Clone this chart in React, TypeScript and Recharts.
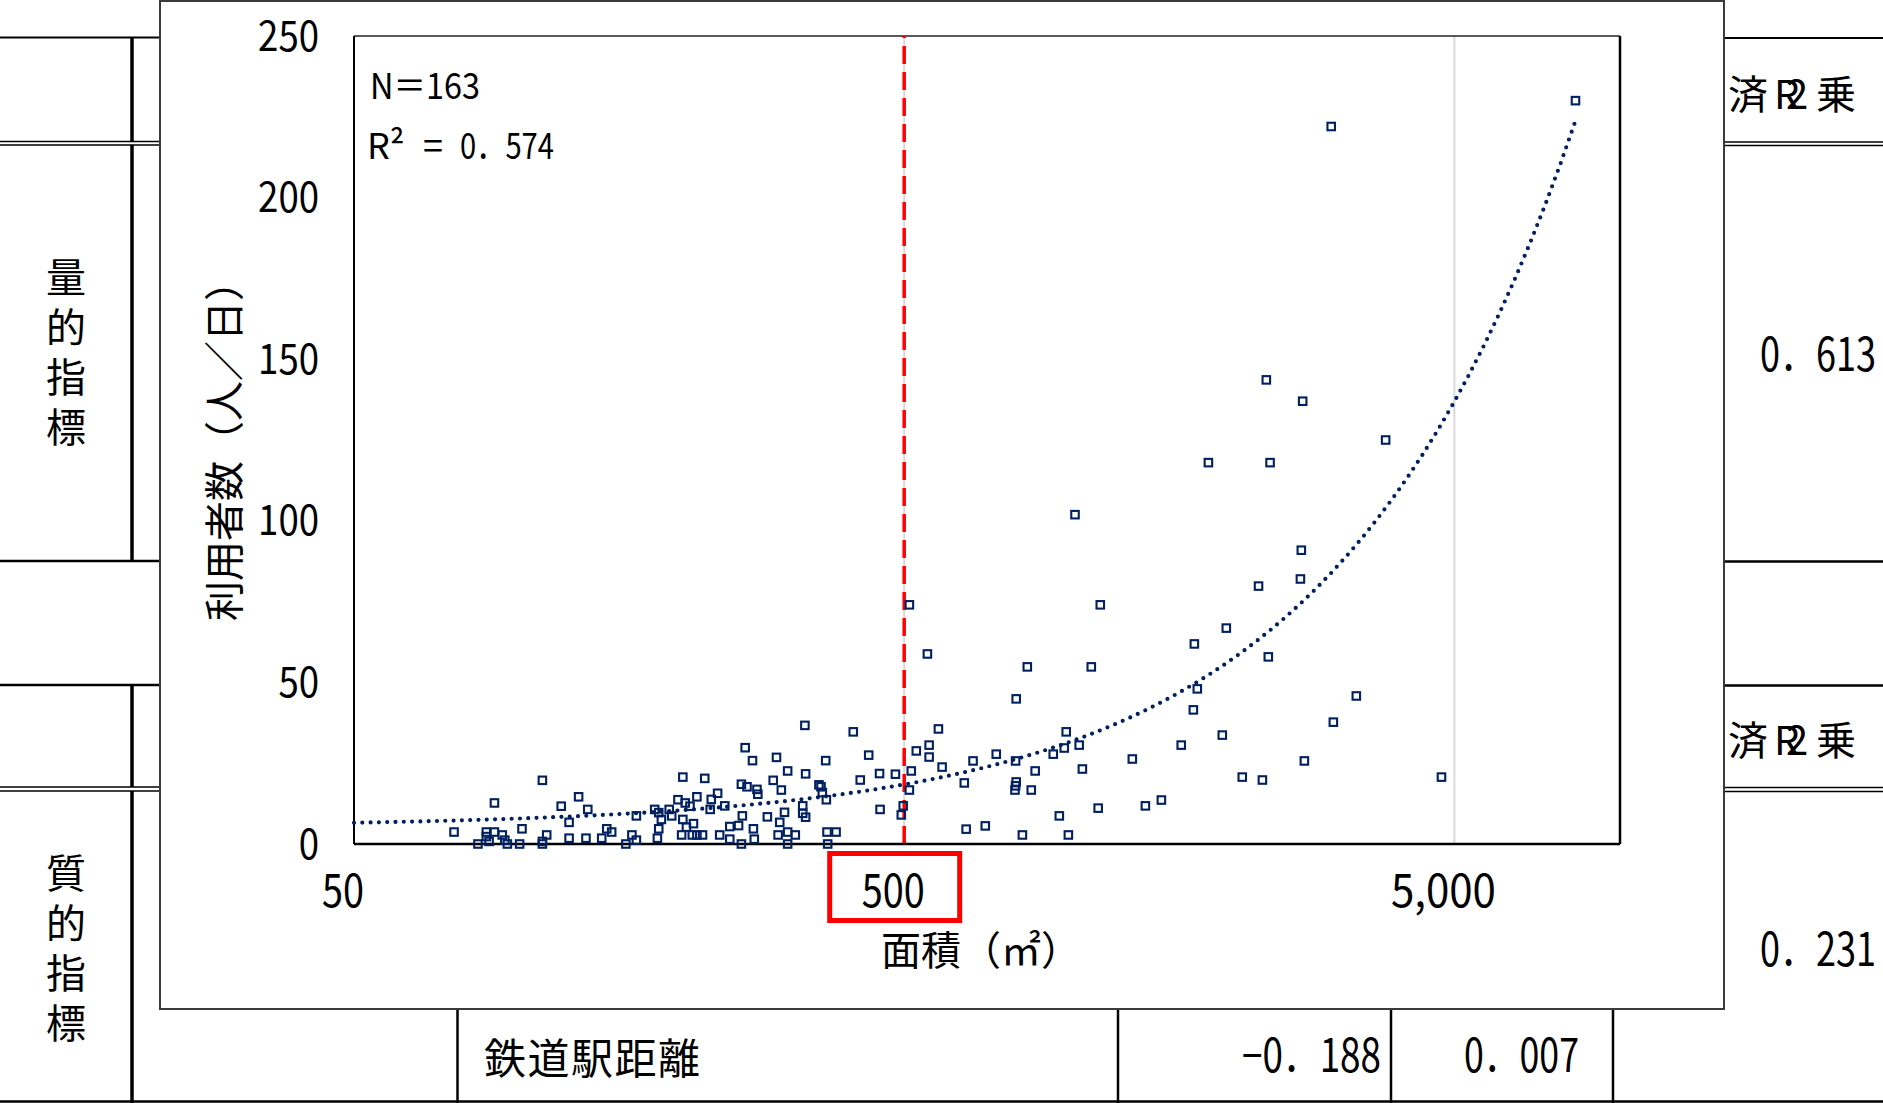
import {
  ScatterChart,
  Scatter,
  XAxis,
  YAxis,
  CartesianGrid,
  ReferenceLine,
  Label,
} from "recharts";

const FONT = "'Noto Sans CJK JP', 'Noto Sans CJK SC', sans-serif";
const NAVY = "#002060";

// [面積(㎡), 利用者数(人/日)]
const facilities: [number, number][] = [
  [76, 3.7], [84, 0], [87, 3.7], [87, 2.3], [88, 0.8], [90, 3.7], [90, 12.7], [93, 2.8], [94, 1.2], [95, 0],
  [100, 0], [101, 4.7], [110, 19.7], [110, 0.8], [110, 0], [112, 2.8], [119, 11.7], [123, 6.7], [123, 1.8], [128, 14.6],
  [132, 1.8], [133, 10.7], [141, 1.8], [144, 4.7], [147, 3.7], [156, 0], [160, 2.8], [163, 1.2], [163, 8.7], [176, 10.7],
  [178, 1.8], [179, 4.7], [179, 9.7], [181, 7.6], [187, 10.7], [189, 8.7], [194, 13.7], [197, 2.8], [198, 20.7], [198, 7.6],
  [200, 12.7], [201, 5.2], [204, 11.7], [206, 2.8], [210, 2.8], [215, 2.8], [207, 6.3], [210, 14.6], [217, 20.3], [222, 10.7],
  [223, 13.8], [229, 15.7], [231, 2.8], [236, 11.8], [241, 5.4], [241, 1.5], [250, 5.7], [253, 18.5], [253, 0], [254, 8.7],
  [257, 29.8], [259, 17.7], [265, 25.8], [266, 4.7], [267, 1.5], [270, 16.9], [271, 15.4], [282, 8.4], [289, 19.7], [293, 26.8],
  [295, 2.8], [297, 6.7], [299, 16.7], [303, 9.8], [307, 22.6], [307, 3.7], [307, 0], [317, 2.8], [327, 11.8], [327, 9.5],
  [330, 36.7], [331, 21.7], [331, 8.3], [350, 18.3], [353, 17.7], [355, 15.9], [360, 25.8], [361, 13.7], [362, 3.7], [363, 0],
  [376, 3.7], [404, 34.7], [416, 19.8], [431, 27.5], [451, 21.8], [452, 10.7], [482, 21.6], [494, 9], [498, 11.8], [511, 74],
  [511, 16.7], [515, 22.6], [526, 28.8], [551, 58.8], [555, 30.6], [555, 26.9], [577, 35.6], [586, 23.8], [643, 18.9], [648, 4.6],
  [667, 25.7], [702, 5.6], [735, 27.8], [795, 16.7], [797, 25.7], [799, 44.9], [799, 19.2], [797, 18], [820, 2.8], [837, 54.8],
  [851, 16.7], [865, 22.6], [933, 27.8], [957, 8.7], [977, 29.7], [985, 34.7], [994, 2.8], [1022, 101.9], [1040, 30.6], [1054, 23.2],
  [1094, 54.8], [1126, 11.1], [1136, 74], [1299, 26.3], [1372, 11.8], [1467, 13.6], [1594, 30.6], [1677, 41.5], [1684, 61.9], [1705, 48],
  [1786, 118], [1893, 33.7], [1925, 66.8], [2058, 20.7], [2203, 79.8], [2239, 19.8], [2276, 143.6], [2295, 57.9], [2312, 118], [2625, 82],
  [2635, 90.9], [2650, 137], [2669, 25.7], [2986, 222], [3013, 37.7], [3317, 45.8], [3750, 125], [4737, 20.7], [8300, 230],
];

const xTicks = [50, 500, 5000];
const yTicks = [0, 50, 100, 150, 200, 250];
const xDomain: [number, number] = [50, 10000];
const yDomain: [number, number] = [0, 250];
const highlightX = 500;

const sampleText = "N＝163";
const r2Parts = ["R²", "=", "0．574"];
const xTitle = "面積（㎡）";
const yTitle = "利用者数（人／日）";

// surrounding table
const sectionLabels = ["量的指標", "質的指標"];
const adjR2Head = "済R2乗";
const adjR2Values = ["0．613", "0．231"];
const rowLabel = "鉄道駅距離";
const rowValues = ["−0．188", "0．007"];

const points = facilities.map(([x, y]) => ({ x, y }));

// linear least-squares trendline (drawn on the log x axis, so it curves)
const n = points.length;
const meanX = points.reduce((s, p) => s + p.x, 0) / n;
const meanY = points.reduce((s, p) => s + p.y, 0) / n;
let sxy = 0;
let sxx = 0;
points.forEach((p) => {
  sxy += (p.x - meanX) * (p.y - meanY);
  sxx += (p.x - meanX) * (p.x - meanX);
});
const slope = sxy / sxx;
const intercept = meanY - slope * meanX;
const maxX = Math.max(...points.map((p) => p.x));
const trend = Array.from({ length: 81 }, (_, i) => {
  const x = xDomain[0] * Math.pow(maxX / xDomain[0], i / 80);
  return { x, y: intercept + slope * x };
});

const Square = (props: any) => (
  <rect
    x={props.cx - 3.75}
    y={props.cy - 3.75}
    width={7.5}
    height={7.5}
    fill="none"
    stroke={NAVY}
    strokeWidth={2.1}
  />
);

const YTick = ({ y, payload }: any) => {
  const s = String(payload.value);
  return (
    <text
      x={159}
      y={y - 4}
      textAnchor="end"
      dominantBaseline="central"
      fontSize={42}
      fontFamily={FONT}
      fill="#000"
      textLength={20.3 * s.length}
      lengthAdjust="spacingAndGlyphs"
    >
      {s}
    </text>
  );
};

const XTick = ({ x, payload }: any) => {
  const s = Number(payload.value).toLocaleString("en-US");
  const cx = x - 11;
  return (
    <g>
      {payload.value === highlightX && (
        <rect
          x={cx - 63.5}
          y={852.5}
          width={130}
          height={67}
          fill="none"
          stroke="#FF0000"
          strokeWidth={5}
        />
      )}
      <text
        x={cx}
        y={886}
        textAnchor="middle"
        dominantBaseline="central"
        fontSize={46}
        fontFamily={FONT}
        fill="#000"
        textLength={21 * s.length}
        lengthAdjust="spacingAndGlyphs"
      >
        {s}
      </text>
    </g>
  );
};

function TableLayer() {
  const hy = [37.5, 141.5, 145, 561, 685, 787, 791];
  const hw = [2, 1.5, 1.5, 2.5, 2.5, 1.5, 1.5];
  const txt = { fontFamily: FONT, fill: "#000", dominantBaseline: "central" as const };
  return (
    <svg width={1883} height={1103} style={{ position: "absolute", left: 0, top: 0 }}>
      {hy.map((y, i) => (
        <g key={y}>
          <line x1={0} x2={160} y1={y} y2={y} stroke="#000" strokeWidth={hw[i]} />
          <line x1={1724} x2={1883} y1={y + 0.5} y2={y + 0.5} stroke="#000" strokeWidth={hw[i]} />
        </g>
      ))}
      {[
        [37.5, 141.5],
        [145, 561],
        [685, 787],
        [791, 1103],
      ].map(([a, b]) => (
        <line key={a} x1={132} x2={132} y1={a} y2={b} stroke="#000" strokeWidth={3.5} />
      ))}
      {[457.5, 1118, 1391, 1613].map((x) => (
        <line key={x} x1={x} x2={x} y1={1009} y2={1103} stroke="#000" strokeWidth={2.5} />
      ))}
      <line x1={0} x2={1883} y1={1101.5} y2={1101.5} stroke="#000" strokeWidth={2.5} />

      {sectionLabels.map((label, k) =>
        label.split("").map((ch, i) => (
          <text key={k + ch + i} x={66} y={(k === 0 ? 275 : 871) + i * 50} textAnchor="middle" fontSize={40} {...txt}>
            {ch}
          </text>
        ))
      )}

      {[92, 738].map((y) => {
        const c = adjR2Head.split("");
        return (
          <g key={y} fontSize={40}>
            <text x={1728} y={y} {...txt}>{c[0]}</text>
            <text x={1774} y={y} {...txt}>{c[1]}</text>
            <text x={1786} y={y} {...txt}>{c[2]}</text>
            <text x={1816} y={y} {...txt}>{c[3]}</text>
          </g>
        );
      })}
      {adjR2Values.map((v, i) => (
        <text
          key={v}
          x={1876}
          y={i === 0 ? 351 : 946}
          textAnchor="end"
          fontSize={46}
          textLength={116}
          lengthAdjust="spacingAndGlyphs"
          {...txt}
        >
          {v}
        </text>
      ))}
      <text x={484} y={1055} fontSize={42} textLength={216} lengthAdjust="spacing" {...txt}>
        {rowLabel}
      </text>
      <text x={1381} y={1052} textAnchor="end" fontSize={46} textLength={139} lengthAdjust="spacingAndGlyphs" {...txt}>
        {rowValues[0]}
      </text>
      <text x={1579} y={1052} textAnchor="end" fontSize={46} textLength={115} lengthAdjust="spacingAndGlyphs" {...txt}>
        {rowValues[1]}
      </text>
    </svg>
  );
}

export default function App() {
  return (
    <div
      style={{
        position: "absolute",
        left: 0,
        top: 0,
        width: 1883,
        height: 1103,
        background: "#fff",
        overflow: "hidden",
        fontFamily: FONT,
      }}
    >
      <TableLayer />
      <div style={{ position: "absolute", left: 160, top: 1, width: 1564, height: 1008, background: "#fff" }}>
        <ScatterChart width={1564} height={1008} margin={{ top: 35, right: 104, bottom: 0, left: 0 }}>
          <CartesianGrid horizontal={false} stroke="#d9d9d9" strokeWidth={2} />
          <XAxis
            type="number"
            dataKey="x"
            scale="log"
            domain={xDomain}
            ticks={xTicks}
            height={165}
            axisLine={{ stroke: "#000", strokeWidth: 2.5 }}
            tickLine={false}
            tick={<XTick />}
            interval={0}
          >
            <Label
              content={() => (
                <text x={721} y={947} fontSize={40} fontFamily={FONT} fill="#000" dominantBaseline="central">
                  {xTitle}
                </text>
              )}
            />
          </XAxis>
          <YAxis
            type="number"
            dataKey="y"
            domain={yDomain}
            ticks={yTicks}
            width={194}
            axisLine={{ stroke: "#000", strokeWidth: 2 }}
            tickLine={false}
            tick={<YTick />}
            interval={0}
          >
            <Label
              content={() => (
                <text
                  transform="translate(62,440) rotate(-90)"
                  textAnchor="middle"
                  dominantBaseline="central"
                  fontSize={40}
                  fontFamily={FONT}
                  fill="#000"
                >
                  {yTitle}
                </text>
              )}
            />
          </YAxis>
          <ReferenceLine y={250} stroke="#222" strokeWidth={1.5} />
          <ReferenceLine x={10000} stroke="#000" strokeWidth={2.5} />
          <ReferenceLine x={highlightX} stroke="#FF0000" strokeWidth={3.5} strokeDasharray="18 8" />
          <Scatter data={points} shape={Square} isAnimationActive={false} />
          <Scatter
            data={trend}
            shape={() => <g />}
            line={{ stroke: NAVY, strokeWidth: 4.2, strokeDasharray: "0 8.3", strokeLinecap: "round" }}
            lineType="joint"
            isAnimationActive={false}
          />
        </ScatterChart>
      </div>
      <svg width={1883} height={1103} style={{ position: "absolute", left: 0, top: 0, pointerEvents: "none" }}>
        <rect x={160} y={1} width={1564} height={1008} fill="none" stroke="#3a3a3a" strokeWidth={2} />
        <text x={370} y={83} fontSize={36} fontFamily={FONT} dominantBaseline="central" textLength={110} lengthAdjust="spacingAndGlyphs">
          {sampleText}
        </text>
        <text x={367} y={143} fontSize={36} fontFamily={FONT} dominantBaseline="central">
          {r2Parts[0]}
        </text>
        <text x={433} y={143} fontSize={36} fontFamily={FONT} dominantBaseline="central" textAnchor="middle">
          {r2Parts[1]}
        </text>
        <text x={460} y={143} fontSize={36} fontFamily={FONT} dominantBaseline="central" textLength={94} lengthAdjust="spacingAndGlyphs">
          {r2Parts[2]}
        </text>
      </svg>
    </div>
  );
}
